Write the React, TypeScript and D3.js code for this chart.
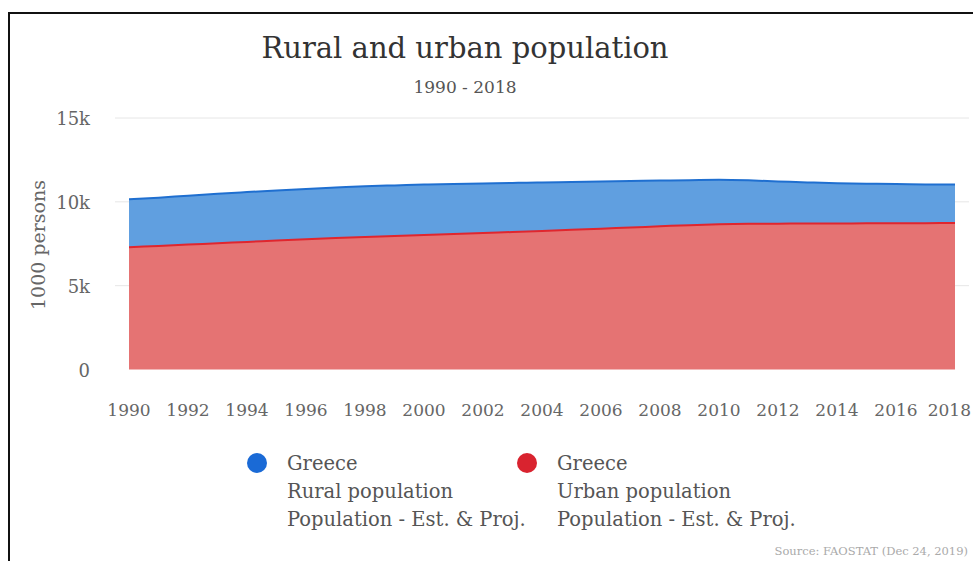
import React from "react";
import * as d3 from "d3";

const years = d3.range(1990, 2019);
const urban = [7.29, 7.37, 7.45, 7.53, 7.61, 7.69, 7.77, 7.84, 7.9, 7.96, 8.02, 8.08, 8.14, 8.2, 8.26, 8.33, 8.4, 8.47, 8.54, 8.61, 8.66, 8.69, 8.7, 8.71, 8.71, 8.72, 8.72, 8.73, 8.74].map((v) => v * 1000);
const total = [10.15, 10.25, 10.37, 10.48, 10.58, 10.68, 10.77, 10.85, 10.93, 10.98, 11.03, 11.07, 11.1, 11.13, 11.15, 11.18, 11.21, 11.24, 11.27, 11.29, 11.31, 11.28, 11.22, 11.16, 11.11, 11.08, 11.06, 11.04, 11.03].map((v) => v * 1000);
const rural = total.map((t, i) => t - urban[i]);
const yTicks = [0, 5000, 10000, 15000];
const yTickLabels = ["0", "5k", "10k", "15k"];
const xTicks = d3.range(1990, 2019, 2);
const legendItems = [
  { lines: ["Greece", "Rural population", "Population - Est. & Proj."], color: "#1a6ad6" },
  { lines: ["Greece", "Urban population", "Population - Est. & Proj."], color: "#d9232f" },
];

const FONT = "'DejaVu Serif', serif";

export default function App() {
  const W = 973, H = 561;
  const x = d3.scaleLinear().domain([1990, 2018]).range([129, 955]);
  const y = d3.scaleLinear().domain([0, 15000]).range([369.5, 118]);
  const areaUrban = d3.area<number>().x((_, i) => x(years[i])).y0(() => y(0)).y1((d) => y(d)).curve(d3.curveMonotoneX);
  const lineUrban = d3.line<number>().x((_, i) => x(years[i])).y((d) => y(d)).curve(d3.curveMonotoneX);
  const areaRural = d3.area<number>().x((_, i) => x(years[i])).y0((_, i) => y(urban[i])).y1((d, i) => y(urban[i] + d)).curve(d3.curveMonotoneX);
  const lineRural = d3.line<number>().x((_, i) => x(years[i])).y((d, i) => y(urban[i] + d)).curve(d3.curveMonotoneX);

  return (
    <svg width={W} height={H} style={{ position: "absolute", left: 0, top: 0, background: "#fff" }}>
      <rect x={0} y={0} width={W} height={H} fill="#fff" />
      <rect x={9} y={13} width={W + 20} height={H + 20} fill="none" stroke="#111" strokeWidth={2} />
      <text x={465} y={58} textAnchor="middle" fontFamily={FONT} fontSize={29} fill="#333">Rural and urban population</text>
      <text x={465} y={93} textAnchor="middle" fontFamily={FONT} fontSize={17} fill="#555">1990 - 2018</text>
      {yTicks.map((t, i) => (
        <g key={t}>
          {i > 0 && <line x1={115} x2={969} y1={y(t)} y2={y(t)} stroke="#e6e6e6" strokeWidth={1} />}
          <text x={90} y={y(t) + 7} textAnchor="end" fontFamily={FONT} fontSize={18} fill="#666">{yTickLabels[i]}</text>
        </g>
      ))}
      <text transform={`translate(45,245) rotate(-90)`} textAnchor="middle" fontFamily={FONT} fontSize={19} fill="#666">1000 persons</text>
      <path d={areaUrban(urban) || ""} fill="#e57373" />
      <path d={areaRural(rural) || ""} fill="#609fe0" />
      <path d={lineRural(rural) || ""} fill="none" stroke="#1f6fd0" strokeWidth={2} />
      <path d={lineUrban(urban) || ""} fill="none" stroke="#e0262e" strokeWidth={2} />
      {xTicks.map((t, i) => {
        const last = i === xTicks.length - 1;
        return (
          <text key={t} x={last ? 971 : x(t)} y={416} textAnchor={last ? "end" : "middle"} fontFamily={FONT} fontSize={17} fill="#666">{t}</text>
        );
      })}
      {legendItems.map((item, i) => (
        <g key={i} transform={`translate(${257 + i * 270},463)`}>
          <circle cx={0} cy={0} r={10} fill={item.color} />
          {item.lines.map((l, j) => (
            <text key={j} x={30} y={7 + j * 28} fontFamily={FONT} fontSize={19.5} fill="#555">{l}</text>
          ))}
        </g>
      ))}
      <text x={968} y={555} textAnchor="end" fontFamily={FONT} fontSize={11.5} fill="#aaa">Source: FAOSTAT (Dec 24, 2019)</text>
    </svg>
  );
}
